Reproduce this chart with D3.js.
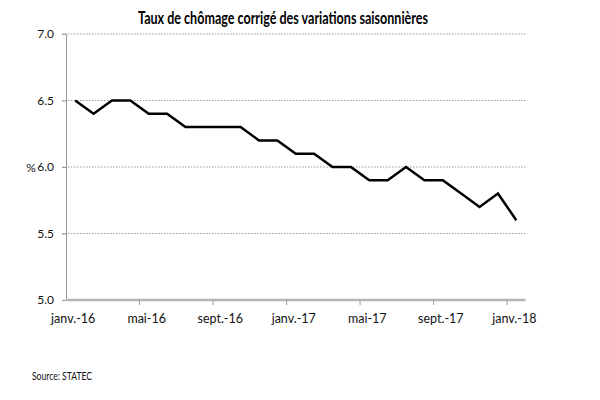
<!DOCTYPE html>
<html>
<head>
<meta charset="utf-8">
<script src="https://cdn.jsdelivr.net/npm/d3@7"></script>
<style>
  body { margin: 0; background: #fff; }
  svg text { font-family: Lato, "Liberation Sans", sans-serif; }
</style>
</head>
<body>
<div id="chart"></div>
<script>
const months = [
  "janv.-16", "févr.-16", "mars-16", "avr.-16", "mai-16", "juin-16", "juil.-16", "août-16",
  "sept.-16", "oct.-16", "nov.-16", "déc.-16", "janv.-17", "févr.-17", "mars-17", "avr.-17",
  "mai-17", "juin-17", "juil.-17", "août-17", "sept.-17", "oct.-17", "nov.-17", "déc.-17", "janv.-18"
];
const rates = [
  6.5, 6.4, 6.5, 6.5, 6.4, 6.4, 6.3, 6.3, 6.3, 6.3, 6.2, 6.2, 6.1,
  6.1, 6.0, 6.0, 5.9, 5.9, 6.0, 5.9, 5.9, 5.8, 5.7, 5.8, 5.6
];
const yTicks = [5.0, 5.5, 6.0, 6.5, 7.0];
const labelMonths = ["janv.-16", "mai-16", "sept.-16", "janv.-17", "mai-17", "sept.-17", "janv.-18"];

const width = 600, height = 400;
const plotLeft = 66, plotRight = 525.5, plotTop = 34, plotBottom = 300;

const svg = d3.select("#chart").append("svg")
  .attr("width", width)
  .attr("height", height);

const x = d3.scaleBand().domain(months).range([plotLeft, plotRight]);
const y = d3.scaleLinear().domain([5, 7]).range([plotBottom, plotTop]);

// title
svg.append("text")
  .attr("x", 138).attr("y", 24)
  .attr("font-size", 16.5)
  .attr("font-weight", "bold")
  .attr("fill", "#000")
  .attr("textLength", 290)
  .attr("lengthAdjust", "spacingAndGlyphs")
  .text("Taux de chômage corrigé des variations saisonnières");

// dotted gridlines
svg.append("g")
  .selectAll("line")
  .data(yTicks.filter(d => d > 5))
  .join("line")
  .attr("x1", plotLeft - 4).attr("x2", plotRight)
  .attr("y1", d => y(d)).attr("y2", d => y(d))
  .attr("stroke", "#999")
  .attr("stroke-width", 1)
  .attr("stroke-dasharray", "1.5,1.5");

// y axis
const yAxis = svg.append("g")
  .attr("transform", `translate(${plotLeft},0)`)
  .call(d3.axisLeft(y).tickValues(yTicks).tickFormat(d3.format(".1f")).tickSize(4).tickPadding(8));
yAxis.select(".domain").attr("stroke", "#999");
yAxis.selectAll(".tick line").attr("stroke", "#999");
yAxis.selectAll(".tick text").attr("font-size", 12).attr("fill", "#111")
  .style("font-family", "Lato, sans-serif");

svg.append("text")
  .attr("x", 31).attr("y", y(6.0) + 4.5)
  .attr("text-anchor", "middle")
  .attr("font-size", 12)
  .attr("fill", "#111")
  .text("%");

// x axis: ticks between categories every 4 months
const xg = svg.append("g");
xg.append("line")
  .attr("x1", plotLeft).attr("x2", plotRight)
  .attr("y1", plotBottom).attr("y2", plotBottom)
  .attr("stroke", "#b5b5b5")
  .attr("stroke-width", 2.5);
xg.selectAll(".tk")
  .data(months.filter((d, i) => i > 0 && i % 4 === 0))
  .join("line")
  .attr("class", "tk")
  .attr("x1", d => x(d)).attr("x2", d => x(d))
  .attr("y1", plotBottom).attr("y2", plotBottom + 5)
  .attr("stroke", "#999");
xg.selectAll(".lbl")
  .data(labelMonths)
  .join("text")
  .attr("class", "lbl")
  .attr("x", d => x(d) + x.bandwidth() / 2 - 2)
  .attr("y", plotBottom + 23)
  .attr("text-anchor", "middle")
  .attr("font-size", 12.5)
  .attr("fill", "#111")
  .text(d => d);

// line
const line = d3.line()
  .x((d, i) => x(months[i]) + x.bandwidth() / 2)
  .y(d => y(d));

svg.append("path")
  .datum(rates)
  .attr("fill", "none")
  .attr("stroke", "#000")
  .attr("stroke-width", 2.5)
  .attr("stroke-linejoin", "miter")
  .attr("d", line);

// source
svg.append("text")
  .attr("x", 32).attr("y", 380)
  .attr("font-size", 10.5)
  .attr("fill", "#111")
  .attr("textLength", 60)
  .attr("lengthAdjust", "spacingAndGlyphs")
  .text("Source: STATEC");
</script>
</body>
</html>
